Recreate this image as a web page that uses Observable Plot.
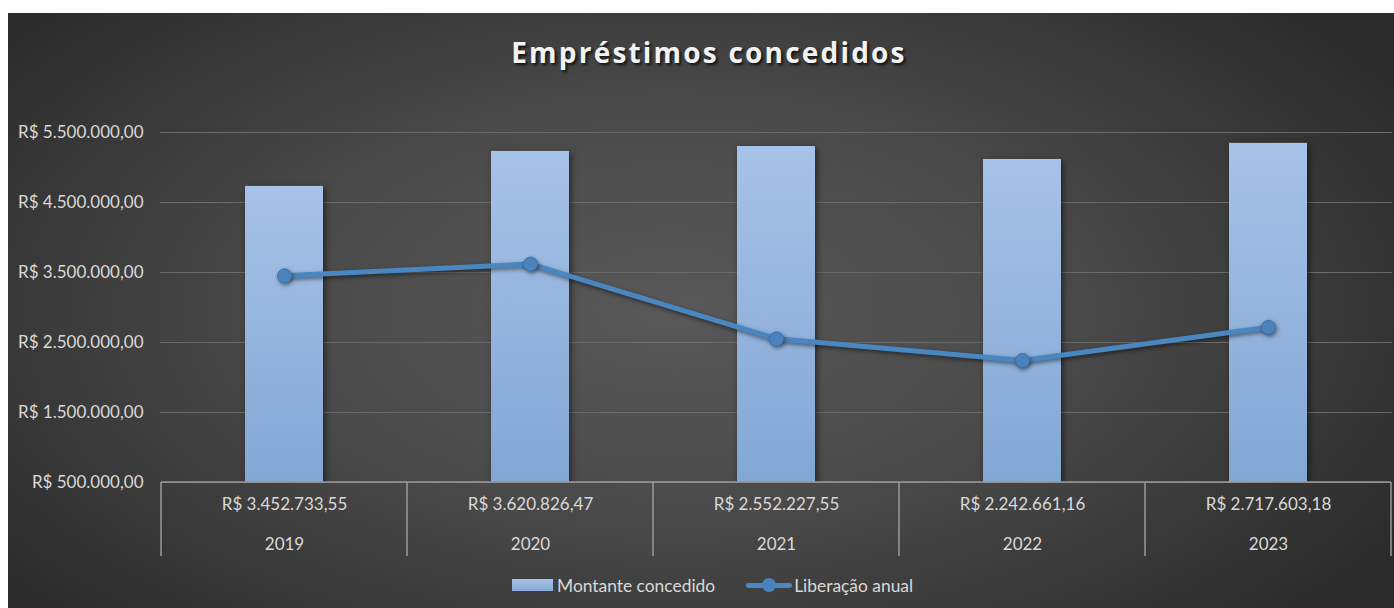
<!DOCTYPE html>
<html>
<head>
<meta charset="utf-8">
<script src="https://cdn.jsdelivr.net/npm/d3@7"></script>
<script src="https://cdn.jsdelivr.net/npm/@observablehq/plot@0.6"></script>
<style>
  body { margin: 0; background: #ffffff; width: 1394px; height: 608px; overflow: hidden; font-family: Lato, "Open Sans", sans-serif; }
  #chart { position: absolute; left: 8px; top: 13px; width: 1386px; height: 595px; overflow: hidden;
    background: radial-gradient(ellipse 62% 75% at 48% 50%, #585858 0%, #4a4a4a 45%, #2b2b2b 100%); }
  #title { position: absolute; top: 20px; left: 0; width: 1402px; text-align: center; color: #f2f2f2;
    font-family: "Open Sans", Lato, sans-serif; font-weight: 700; font-size: 28px; letter-spacing: 2.2px;
    text-shadow: 2px 2px 3px rgba(0,0,0,0.75); }
  #plot { position: absolute; left: 0; top: 87px; }
  #legend { position: absolute; left: 504px; top: 562px; height: 20px; display: flex; align-items: center;
    color: #d9d9d9; font-size: 17.4px; }
  .sw-bar { width: 41px; height: 12px; background: linear-gradient(#a9c3e8, #86a9d6); margin-right: 4px; }
  .sw-line { position: relative; width: 46px; height: 12px; margin-left: 31px; margin-right: 2px; }
  .sw-line::before { content: ""; position: absolute; left: 0; right: 0; top: 4px; height: 5px; background: #4a86c0; border-radius: 2px; }
  .sw-line::after { content: ""; position: absolute; left: 16px; top: -1px; width: 14px; height: 14px; border-radius: 50%; background: #4a82bd; }
</style>
</head>
<body>
<div id="chart">
  <div id="title">Empréstimos concedidos</div>
  <div id="plot"></div>
  <div id="legend"><div class="sw-bar"></div><span>Montante concedido</span><div class="sw-line"></div><span>Liberação anual</span></div>
</div>
<script>
const years = ["2019", "2020", "2021", "2022", "2023"];
const montante = [4730000, 5230000, 5300000, 5115000, 5345000];
const liberacao = [3452733.55, 3620826.47, 2552227.55, 2242661.16, 2717603.18];
const yTicks = [500000, 1500000, 2500000, 3500000, 4500000, 5500000];

const brl = d3.formatLocale({decimal: ",", thousands: ".", grouping: [3], currency: ["R$ ", ""]}).format("$,.2f");

const data = years.map((y, i) => ({year: y, montante: montante[i], liberacao: liberacao[i]}));

const W = 1386, H = 470;
const FS = 17;
const plot = Plot.plot({
  width: W, height: H,
  marginTop: 32, marginBottom: 88, marginLeft: 152, marginRight: 2,
  style: {background: "transparent", color: "#d9d9d9", fontSize: FS + "px", fontFamily: "Lato, 'Open Sans', sans-serif"},
  x: {type: "band", domain: years, paddingInner: 0.683, paddingOuter: 0.3415, axis: null},
  y: {domain: [500000, 5500000], ticks: yTicks, tickFormat: brl, label: null},
  marks: [
    Plot.gridY(yTicks, {stroke: "#6b6b6b", strokeOpacity: 1, strokeWidth: 1}),
    Plot.axisY(yTicks, {tickSize: 0, tickPadding: 17, tickFormat: brl, label: null, fill: "#d9d9d9", fontSize: FS}),
    Plot.barY(data, {x: "year", y: "montante", fill: "url(#barGrad)", clip: true}),
    Plot.line(data, {x: "year", y: "liberacao", stroke: "#4a86c0", strokeWidth: 5, strokeLinejoin: "round"}),
    Plot.dot(data, {x: "year", y: "liberacao", r: 7, fill: "#4a82bd", stroke: "#3f74ad", strokeWidth: 1}),
    Plot.text(data, {x: "year", text: d => brl(d.liberacao), frameAnchor: "bottom", dy: 27, fill: "#d9d9d9", fontSize: FS}),
    Plot.text(data, {x: "year", text: "year", frameAnchor: "bottom", dy: 67, fill: "#d9d9d9", fontSize: FS})
  ]
});

// gradient defs and shadows
const svg = d3.select(plot);
const defs = svg.insert("defs", ":first-child");
const g = defs.append("linearGradient").attr("id", "barGrad").attr("x1", 0).attr("x2", 0).attr("y1", 0).attr("y2", 1);
g.append("stop").attr("offset", "0%").attr("stop-color", "#a7c2e7");
g.append("stop").attr("offset", "100%").attr("stop-color", "#7ea4d3");
svg.selectAll("g[aria-label=bar]").style("filter", "drop-shadow(2px 2px 3px rgba(0,0,0,0.55))");
svg.selectAll("g[aria-label=line], g[aria-label=dot]").style("filter", "drop-shadow(1px 2px 2px rgba(0,0,0,0.5))");

// table lines below the plot, using the x scale's band edges
const xs = plot.scale("x");
const step = xs.step;
const x0 = xs.apply(years[0]) - (step - xs.bandwidth) / 2;
const yBase = plot.scale("y").apply(yTicks[0]);
const tbl = svg.append("g").attr("stroke", "#9a9a9a").attr("stroke-width", 1.5);
tbl.append("line").attr("x1", x0).attr("x2", x0 + step * years.length).attr("y1", yBase).attr("y2", yBase);
for (let i = 0; i <= years.length; i++) {
  tbl.append("line").attr("x1", x0 + step * i).attr("x2", x0 + step * i).attr("y1", yBase).attr("y2", yBase + 74);
}

document.getElementById("plot").appendChild(plot);
</script>
</body>
</html>
